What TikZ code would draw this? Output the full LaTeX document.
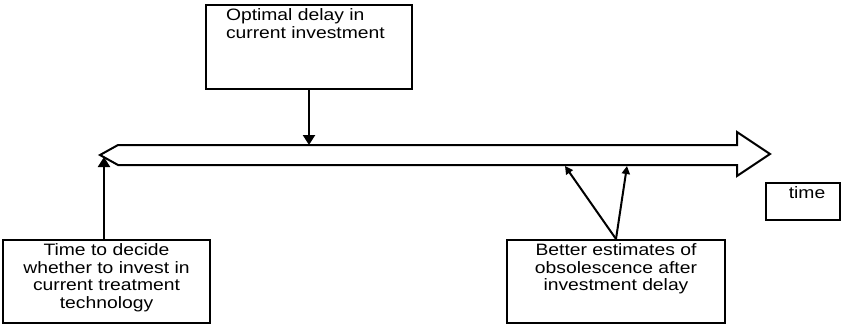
\documentclass[tikz,border=0pt]{standalone}
\usepackage{fontspec}
\newfontfamily\boxfont[FakeStretch=1.17]{Liberation Sans}
\usepackage{tikz}
\usetikzlibrary{%
  arrows.meta,
  positioning,
  calc}
\tikzset{
  %% Text boxes
  notebox/.style={
    rectangle, draw=black, line width=2pt,
    inner sep=4pt,
    font=\boxfont\fontsize{16.5}{17.5}\selectfont},
  %% Time axis outline
  timeaxis/.style={draw=black, line width=2pt, line join=miter},
  %% Arrows
  arrow/.style={-{Triangle[length=10pt,width=12pt]}, line width=2.2pt},
  sarrow/.style={-{Triangle[length=8pt,width=8pt]}, line width=2pt},
}

\begin{document}
\begin{tikzpicture}[x=1pt, y=-1pt]

  \useasboundingbox (0,0) rectangle (844,325);

  %% Time axis (big arrow)
  \draw[timeaxis] (100,155) -- (118,145) -- (737,145) -- (737,132)
    -- (770,154) -- (737,176) -- (737,165) -- (118,165) -- cycle;
  \coordinate (delayend) at (309,145);
  \coordinate (startend) at (104,157);
  \coordinate (estA)     at (565,166);
  \coordinate (estB)     at (627,166);

  %% Boxes
  \node[notebox, minimum width=206pt, minimum height=84pt] (delaybox) at (309,47)
    {\parbox[c][76pt][t]{166pt}{\raggedright Optimal delay in\\current investment}};
  \node[notebox, minimum width=207pt, minimum height=83pt] (decidebox) at (106.5,281.5)
    {\parbox[c][75pt][t]{195pt}{\centering Time to decide\\whether to invest in\\current treatment\\technology}};
  \node[notebox, minimum width=218pt, minimum height=83pt] (estimbox) at (616,281.5)
    {\parbox[c][75pt][t]{205pt}{\centering Better estimates of\\obsolescence after\\investment delay}};
  \node[notebox, minimum width=74pt, minimum height=37pt] (timebox) at (803,201.5)
    {\parbox[c][29pt][t]{60pt}{\centering\hspace*{8pt}time}};

  %% Connectors
  \draw[arrow] (delaybox.south) -- (delayend);
  \draw[arrow] (decidebox.north -| startend) -- (startend);
  \draw[sarrow] (estimbox.north) -- (estA);
  \draw[sarrow] (estimbox.north) -- (estB);

\end{tikzpicture}
\end{document}
